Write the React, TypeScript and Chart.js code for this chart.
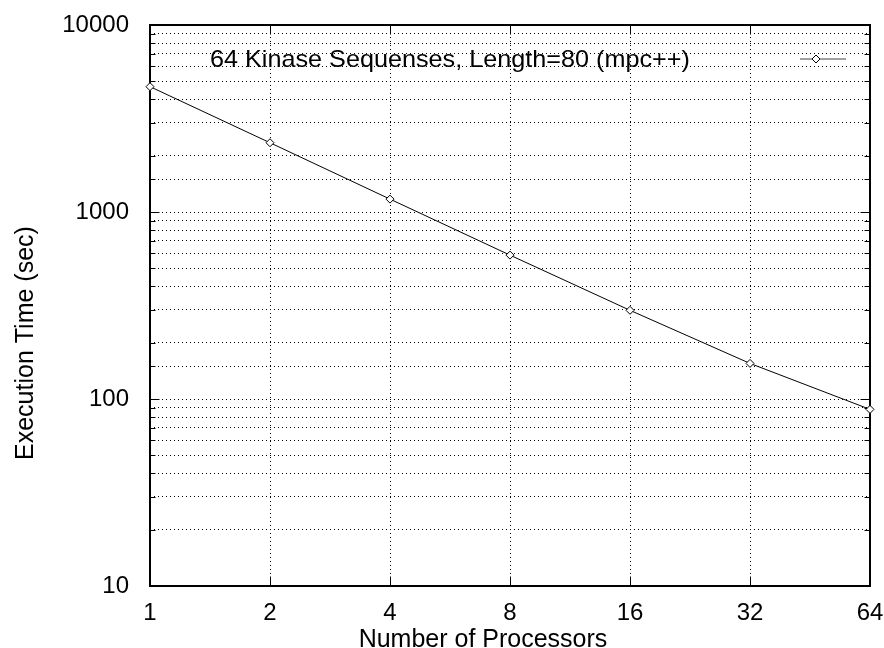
import { useEffect, useRef } from 'react';
import { Chart, registerables } from 'chart.js';

Chart.register(...registerables);

const processors = [1, 2, 4, 8, 16, 32, 64];
const execTimes = [4680, 2346, 1172, 588, 298, 155, 88];
const yLabelValues = [10, 100, 1000, 10000];
const seriesLabel = '64 Kinase Sequenses, Length=80 (mpc++)';
const xTitle = 'Number of Processors';
const yTitle = 'Execution Time (sec)';

const FONT = "'Liberation Sans', Arial, Helvetica, sans-serif";

const framePlugin = {
  id: 'frame',
  beforeDatasetsDraw(chart: any) {
    const { ctx, chartArea: a, scales } = chart;
    ctx.save();
    ctx.strokeStyle = '#000';
    ctx.lineWidth = 1;
    ctx.setLineDash([]);
    const L = Math.round(a.left) + 0.5;
    const R = Math.round(a.right) - 0.5;
    const T = Math.round(a.top) + 0.5;
    const B = Math.round(a.bottom) - 0.5;
    ctx.beginPath();
    const ys = scales.y;
    ys.ticks.forEach((t: any) => {
      const y = Math.round(ys.getPixelForValue(t.value)) + 0.5;
      const major = yLabelValues.includes(t.value);
      const len = major ? 9 : 5;
      ctx.moveTo(L, y);
      ctx.lineTo(L + len, y);
      ctx.moveTo(R, y);
      ctx.lineTo(R - len, y);
    });
    const xs = scales.x;
    xs.ticks.forEach((t: any) => {
      const x = Math.round(xs.getPixelForValue(t.value)) + 0.5;
      ctx.moveTo(x, B);
      ctx.lineTo(x, B - 9);
      ctx.moveTo(x, T);
      ctx.lineTo(x, T + 9);
    });
    ctx.stroke();
    ctx.lineWidth = 2;
    ctx.strokeRect(
      Math.round(a.left),
      Math.round(a.top),
      Math.round(a.right) - Math.round(a.left),
      Math.round(a.bottom) - Math.round(a.top)
    );
    ctx.restore();

    // axis titles
    ctx.save();
    ctx.font = `25px ${FONT}`;
    ctx.fillStyle = '#000';
    ctx.textBaseline = 'alphabetic';
    ctx.textAlign = 'center';
    ctx.fillText(xTitle, 483, 647);
    ctx.translate(33, 460);
    ctx.rotate(-Math.PI / 2);
    ctx.textAlign = 'left';
    ctx.fillText(yTitle, 0, 0);
    ctx.restore();
  },
  afterDatasetsDraw(chart: any) {
    const { ctx } = chart;
    const ds = chart.data.datasets[0];
    ctx.save();
    ctx.font = `24px ${FONT}`;
    ctx.fillStyle = '#000';
    ctx.textAlign = 'left';
    ctx.textBaseline = 'alphabetic';
    ctx.save();
    ctx.translate(210, 67);
    ctx.scale(1.05, 1);
    ctx.fillText(ds.label, 0, 0);
    ctx.restore();
    ctx.strokeStyle = '#444';
    ctx.lineWidth = 1;
    ctx.beginPath();
    ctx.moveTo(800, 59);
    ctx.lineTo(846, 59);
    ctx.stroke();
    ctx.beginPath();
    const cx = 816, cy = 59, r = 4;
    ctx.moveTo(cx - r, cy);
    ctx.lineTo(cx, cy - r);
    ctx.lineTo(cx + r, cy);
    ctx.lineTo(cx, cy + r);
    ctx.closePath();
    ctx.fillStyle = '#fff';
    ctx.fill();
    ctx.strokeStyle = '#000';
    ctx.stroke();
    ctx.restore();
  },
};

export default function App() {
  const ref = useRef<HTMLCanvasElement>(null);
  useEffect(() => {
    document.body.style.margin = '0';
    const chart = new Chart(ref.current as HTMLCanvasElement, {
      type: 'line',
      data: {
        labels: processors,
        datasets: [
          {
            label: seriesLabel,
            data: processors.map((p, i) => ({ x: p, y: execTimes[i] })),
            borderColor: '#000',
            borderWidth: 1,
            pointStyle: 'rectRot',
            pointRadius: 4,
            pointBackgroundColor: '#fff',
            pointBorderColor: '#000',
            pointBorderWidth: 1,
            tension: 0,
            clip: false as any,
          },
        ],
      },
      options: {
        animation: false,
        responsive: false,
        devicePixelRatio: 1,
        layout: { padding: { left: 0, right: 14, top: 25, bottom: 0 } },
        plugins: {
          legend: { display: false },
          tooltip: { enabled: false },
        },
        scales: {
          x: {
            type: 'logarithmic',
            min: 1,
            max: 64,
            afterBuildTicks: (scale: any) => {
              scale.ticks = processors.map((v) => ({ value: v }));
            },
            afterFit: (scale: any) => {
              scale.height = 62;
              scale.paddingLeft = 0;
              scale.paddingRight = 0;
            },
            ticks: {
              autoSkip: false,
              maxRotation: 0,
              padding: 13,
              color: '#000',
              font: { family: FONT, size: 24 },
              callback: (v: any) => String(v),
            },
            grid: { color: '#000', lineWidth: 1, drawTicks: false },
            border: { display: false, dash: [1, 3] },
            title: { display: false },
          },
          y: {
            type: 'logarithmic',
            min: 10,
            max: 10000,
            afterFit: (scale: any) => {
              scale.width = 150;
              scale.paddingTop = 0;
              scale.paddingBottom = 0;
            },
            ticks: {
              autoSkip: false,
              padding: 21,
              color: '#000',
              font: { family: FONT, size: 24 },
              callback: (v: any) => (yLabelValues.includes(Number(v)) ? String(v) : ''),
            },
            grid: { color: '#000', lineWidth: 1, drawTicks: false },
            border: { display: false, dash: [1, 3] },
            title: { display: false },
          },
        },
      },
      plugins: [framePlugin],
    });
    return () => chart.destroy();
  }, []);
  return (
    <div style={{ position: 'absolute', left: 0, top: 0, width: 884, height: 648 }}>
      <canvas ref={ref} width={884} height={648} style={{ display: 'block' }} />
    </div>
  );
}
